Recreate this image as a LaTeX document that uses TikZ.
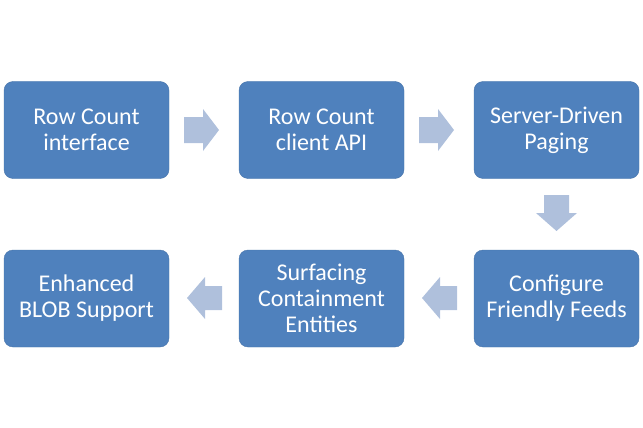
\documentclass[tikz,border=0pt]{standalone}
\usepackage{fontspec}
\setmainfont{Carlito}
\definecolor{boxblue}{HTML}{4F81BD}
\definecolor{arrblue}{HTML}{AFC0DC}
\begin{document}
\begin{tikzpicture}[x=1pt,y=-1pt,
  stepbox/.style={rectangle, rounded corners=9pt, fill=boxblue, draw=boxblue!90!black, line width=0.4pt,
    minimum width=165pt, minimum height=97pt, text=white, align=center,
    font=\fontsize{24}{26}\selectfont, inner sep=0pt},
  blockarr/.style={fill=arrblue, draw=none}]
\useasboundingbox (0,0) rectangle (643,428);
\node[stepbox] (b1) at (86.5,130) {Row Count\\interface};
\node[stepbox] (b2) at (321.5,130) {Row Count\\client API};
\node[stepbox] (b3) at (556.5,130) {Server-Driven\\Paging};
\node[stepbox] (b4) at (86.5,298.5) {Enhanced\\BLOB Support};
\node[stepbox] (b5) at (321.5,298.5) {Surfacing\\Containment\\Entities};
\node[stepbox] (b6) at (556.5,298.5) {Configure\\Friendly Feeds};
% right arrows
\foreach \x in {184,419}{
  \fill[blockarr] (\x,117) -- (\x+19,117) -- (\x+19,109) -- (\x+35,130) -- (\x+19,151) -- (\x+19,143) -- (\x,143) -- cycle;
}
% down arrow
\fill[blockarr] (544,195) -- (569,195) -- (569,213) -- (577,213) -- (556.5,231) -- (536,213) -- (544,213) -- cycle;
% left arrows
\foreach \x in {457,222}{
  \fill[blockarr] (\x,286) -- (\x-17,286) -- (\x-17,277) -- (\x-35,298) -- (\x-17,319) -- (\x-17,310) -- (\x,310) -- cycle;
}
\end{tikzpicture}
\end{document}
